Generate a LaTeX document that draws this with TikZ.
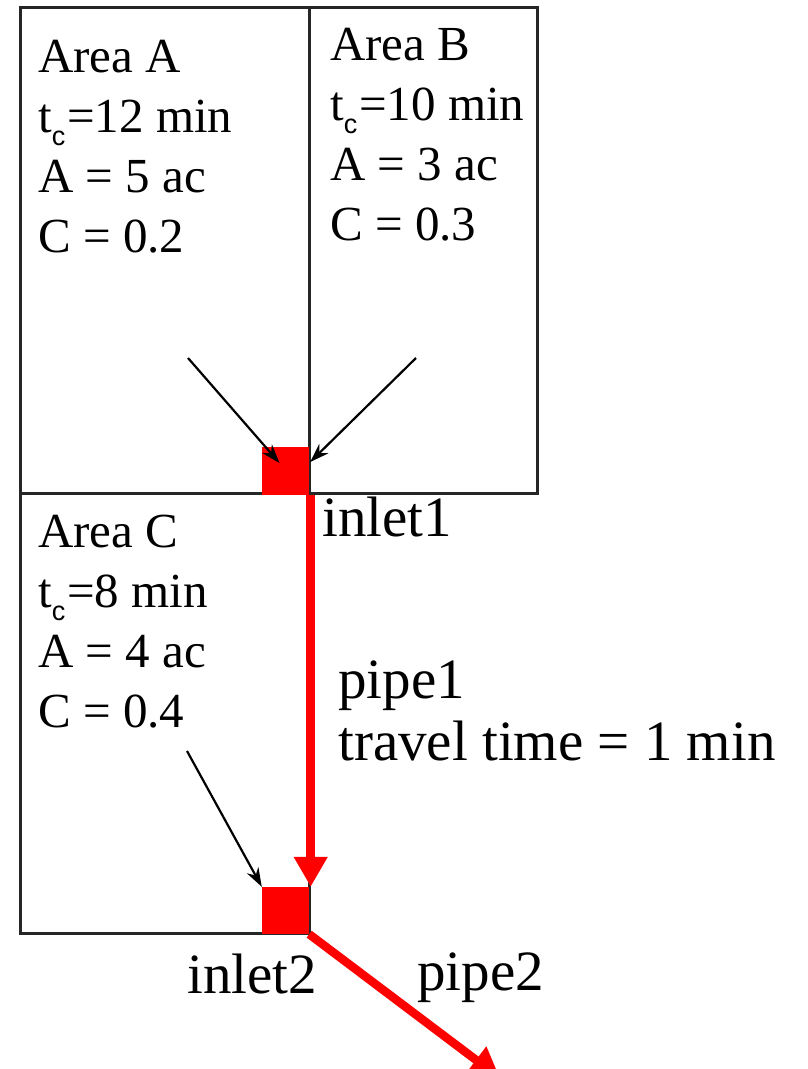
\documentclass[tikz,border=0pt]{standalone}
\usepackage{fontspec}
\setmainfont{Liberation Serif}
\newfontfamily\subfont{Liberation Sans}
\usetikzlibrary{positioning, arrows.meta, calc}
\newcommand{\tsub}{t\raisebox{-13pt}{\subfont\fontsize{27}{27}\selectfont c}\kern2pt}

\begin{document}
\begin{tikzpicture}[
  x=1pt, y=-1pt,
  area/.style   = {anchor=north west, inner sep=0pt, align=left, font=\rmfamily\fontsize{49}{60}\selectfont},
  lbl/.style    = {anchor=base west, inner sep=0pt, font=\rmfamily\fontsize{57}{62}\selectfont},
  inlet/.style  = {draw=none, fill=red, minimum width=47pt, minimum height=47pt, inner sep=0pt},
  border/.style = {line width=3pt, black!85},
  runoff/.style = {-{Stealth[length=19pt, width=13pt]}, line width=2.2pt},
  pipe/.style   = {-{Triangle[length=30pt, width=32pt]}, line width=8.5pt, red},
]
  \useasboundingbox (0,0) rectangle (808,1069);
  % Sub-catchment outlines: A and B on top, C below A.
  \draw[border] (20,7) rectangle (537,493);
  \draw[border] (309,7) -- (309,493);
  \draw[border] (20,493) -- (20,933) -- (309,933) -- (309,493);
  % Inlets sit in the corners where the areas drain.
  \node[inlet, minimum height=48pt] (inlet1) at (285.5,471) {};
  \node[inlet] (inlet2) at (285.5,910.5) {};
  \node[area] (areaA) at (38,39.5)  {Area A\\\tsub=12 min\\A = 5 ac\\C = 0.2};
  \node[area] (areaB) at (330,27.5) {Area B\\\tsub=10 min\\A = 3 ac\\C = 0.3};
  \node[area] (areaC) at (38,514.5) {Area C\\\tsub=8 min\\A = 4 ac\\C = 0.4};
  % Overland flow to the inlets.
  \coordinate (srcA) at (188,358);
  \coordinate (srcB) at (416,358);
  \coordinate (srcC) at (187,751);
  \draw[runoff] (srcA) -- ([shift={(-6pt,8pt)}]inlet1.center);
  \draw[runoff] (srcB) -- ([shift={(1pt,9pt)}]inlet1.east);
  \draw[runoff] (srcC) -- (inlet2.north west);
  % Pipes.
  \coordinate (out) at (500,1078);
  \draw[pipe] ([xshift=1.5pt]inlet1.south east) -- ([xshift=1.5pt]inlet2.north east);
  \draw[pipe] (inlet2.south east) -- (out);
  \node[lbl] (lblin1) at (322,536) {inlet1};
  \node[lbl] (lblin2) at (187,993) {inlet2};
  \node[lbl] (lblp2)  at (417,990) {pipe2};
  \node[lbl, anchor=north west, align=left] (lblp1) at (338,661) {pipe1\\travel time = 1 min};
\end{tikzpicture}
\end{document}
